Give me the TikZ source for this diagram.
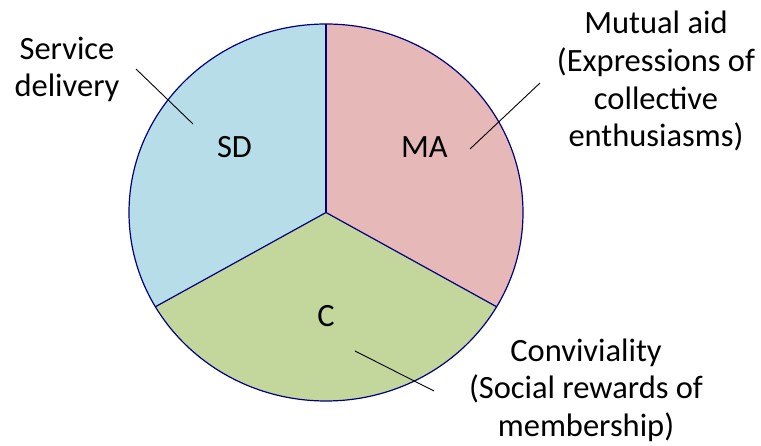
\documentclass[tikz,border=0pt]{standalone}
\usepackage{fontspec}
\setmainfont{Carlito}
\definecolor{sdblue}{HTML}{B7DDE8}
\definecolor{mapink}{HTML}{E6B9B8}
\definecolor{cgreen}{HTML}{C3D69B}
\definecolor{rim}{RGB}{0,0,128}
\begin{document}
\begin{tikzpicture}[x=1pt,y=1pt,
  lbl/.style={inner sep=0pt,font=\fontsize{32.5}{37.7}\selectfont,align=center,anchor=base},
  rimline/.style={draw=rim,line width=1.2pt},
  leader/.style={draw=black,line width=0.9pt}]
\useasboundingbox (0,0) rectangle (761,-446);
\coordinate (ctr) at (326,-212.5);
% sectors
\fill[sdblue] (ctr) -- ++(0,188.5) arc[start angle=90,end angle=210,x radius=197pt,y radius=188.5pt] -- cycle;
\fill[mapink] (ctr) -- ++(0,188.5) arc[start angle=90,end angle=-30,x radius=197pt,y radius=188.5pt] -- cycle;
\fill[cgreen] (ctr) -- ++(-170.6,-94.25) arc[start angle=210,end angle=330,x radius=197pt,y radius=188.5pt] -- cycle;
\coordinate (top) at (326,-24);
\coordinate (ll) at (155.4,-306.75);
\coordinate (lr) at (496.6,-306.75);
\draw[rimline] (ctr) ellipse[x radius=197pt,y radius=188.5pt];
\draw[rimline] (ctr) -- (top);
\draw[rimline] (ctr) -- (ll);
\draw[rimline] (ctr) -- (lr);
% sector labels
\node[lbl] (sd) at (234.5,-158) {SD};
\node[lbl] (ma) at (424.5,-158) {MA};
\node[lbl] (c) at (326,-327) {C};
% outer labels (anchor at baseline of last line)
\node[lbl] (sdt) at (67,-97) {Service\\delivery};
\node[lbl] (mat) at (656,-147) {Mutual aid\\(Expressions of\\collective\\enthusiasms)};
\node[lbl] (ct) at (586,-436.5) {Conviviality\\(Social rewards of\\membership)};
% leaders
\coordinate (sdA) at (136,-69);
\coordinate (sdB) at (193,-124);
\coordinate (maA) at (470,-149);
\coordinate (maB) at (540,-83);
\coordinate (cA) at (355,-351);
\coordinate (cB) at (434,-391);
\draw[leader] (sdA) -- (sdB);
\draw[leader] (maA) -- (maB);
\draw[leader] (cA) -- (cB);
\end{tikzpicture}
\end{document}
